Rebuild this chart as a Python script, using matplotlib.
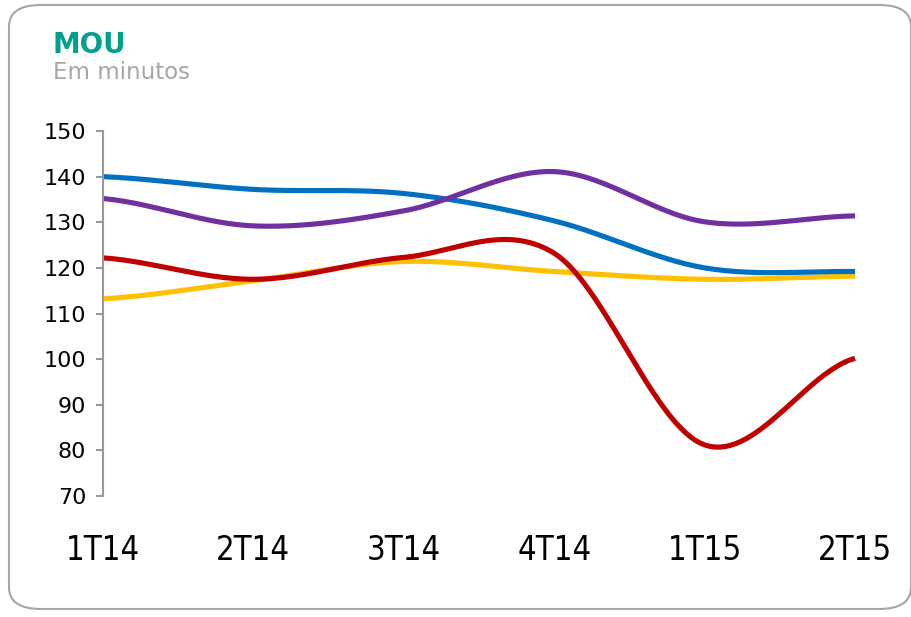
import matplotlib.pyplot as plt
from matplotlib import font_manager
from matplotlib.patches import FancyBboxPatch
import numpy as np

quarters = ['1T14', '2T14', '3T14', '4T14', '1T15', '2T15']
yellow = [113.2, 117.2, 121.4, 119.2, 117.5, 118.2]
red = [122.2, 117.5, 122.3, 123.2, 81.2, 100.2]
blue = [140.0, 137.2, 136.3, 130.3, 120.0, 119.2]
purple = [135.2, 129.2, 132.5, 141.1, 130.1, 131.4]


def smooth(values, steps=30):
    # catmull-rom through the points, like a spreadsheet "smoothed line"
    p = np.array(values, dtype=float)
    n = len(p)
    xs, ys = [], []
    for i in range(n - 1):
        p0 = p[i - 1] if i > 0 else p[i]
        p3 = p[i + 2] if i + 2 < n else p[i + 1]
        m0 = (p[i + 1] - p0) / 2
        m1 = (p3 - p[i]) / 2
        t = np.linspace(0, 1, steps, endpoint=(i == n - 2))
        h00 = 2*t**3 - 3*t**2 + 1
        h10 = t**3 - 2*t**2 + t
        h01 = -2*t**3 + 3*t**2
        h11 = t**3 - t**2
        xs.append(i + t)
        ys.append(h00*p[i] + h10*m0 + h01*p[i + 1] + h11*m1)
    return np.concatenate(xs), np.concatenate(ys)


# narrow face for the quarter labels if one is around
narrow = sorted(f.fname for f in font_manager.fontManager.ttflist
                if f.stretch in ('condensed', 'semi-condensed') and f.style == 'normal'
                and f.weight in (400, 'normal'))

fig = plt.figure(figsize=(9.12, 6.17), dpi=100)

# rounded frame around the whole chart
frame = FancyBboxPatch((9/912, 8/617), 902/912, 604/617,
                       boxstyle='round,pad=0,rounding_size=0.035',
                       transform=fig.transFigure, facecolor='none',
                       edgecolor='#A6A6A6', linewidth=1.5, zorder=-1)
fig.patches.append(frame)

fig.text(53/912, 1 - 53/617, 'MOU', color='#00A08A', fontsize=20,
         fontweight='bold', va='baseline', ha='left')
fig.text(53/912, 1 - 79/617, 'Em minutos', color='#A6A6A6', fontsize=16.5,
         va='baseline', ha='left')

ax = fig.add_axes([103/912, 1 - 496/617, 752/912, 365/617])
ax.patch.set_alpha(0)

for vals, col in [(yellow, '#FFC000'), (red, '#C00000'),
                  (blue, '#0070C0'), (purple, '#7030A0')]:
    x, y = smooth(vals)
    ax.plot(x, y, color=col, linewidth=3.7, solid_capstyle='butt', clip_on=False)

ax.set_xlim(0, 5)
ax.set_ylim(70, 150)
ax.set_yticks(range(70, 151, 10))
ax.set_xticks(range(len(quarters)))
if narrow:
    xprop = font_manager.FontProperties(fname=narrow[0], size=23.5)
else:
    xprop = font_manager.FontProperties(family='DejaVu Sans', size=21)
ax.set_xticklabels(quarters, fontproperties=xprop)
ax.tick_params(axis='x', length=0, pad=27)
ax.tick_params(axis='y', length=5, width=1.5, color='#999999',
               labelsize=16, pad=7)

for s in ['top', 'right', 'bottom']:
    ax.spines[s].set_visible(False)
ax.spines['left'].set_color('#999999')
ax.spines['left'].set_linewidth(1.5)

fig.savefig('out.png', dpi=100)
